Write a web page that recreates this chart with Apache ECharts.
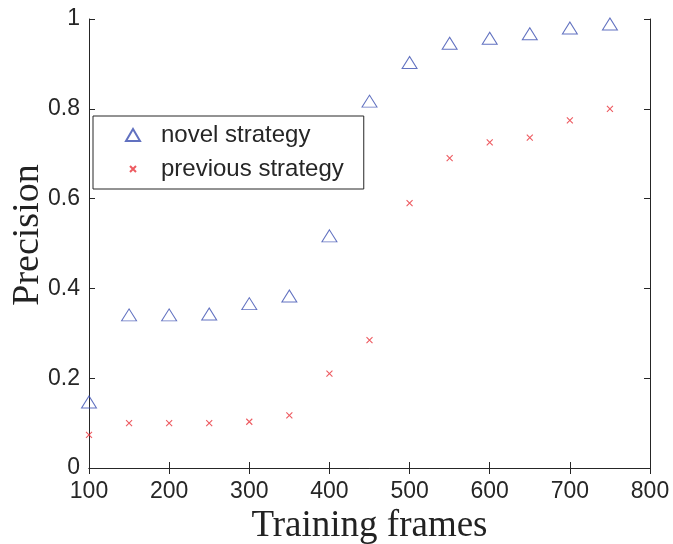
<!DOCTYPE html>
<html>
<head>
<meta charset="utf-8">
<script src="https://cdn.jsdelivr.net/npm/echarts@6/dist/echarts.min.js"></script>
<style>html,body{margin:0;padding:0;background:#fff}#c{width:673px;height:544px}</style>
</head>
<body>
<div id="c"></div>
<script>
const frames = [100,150,200,250,300,350,400,450,500,550,600,650,700,750];
const novel = [0.147,0.341,0.341,0.343,0.366,0.383,0.517,0.817,0.903,0.946,0.957,0.967,0.980,0.989];
const previous = [0.074,0.100,0.100,0.100,0.103,0.117,0.210,0.285,0.590,0.690,0.725,0.736,0.774,0.800];
const seriesNames = ['novel strategy','previous strategy'];
const xTitle = 'Training frames';
const yTitle = 'Precision';

const axisColor = '#262626';
const tickFont = {fontFamily:'Liberation Sans', fontSize:23, color:axisColor};
const chart = echarts.init(document.getElementById('c'), null, {renderer:'canvas'});
const lineStyle = {color:axisColor, width:1};
chart.setOption({
  animation:false,
  backgroundColor:'#fff',
  grid:{left:89, right:23, top:19, bottom:76, containLabel:false, outerBoundsMode:'none'},
  xAxis:[{
    type:'value', min:100, max:800, interval:100,
    name:xTitle, nameLocation:'middle', nameGap:40, nameMoveOverlap:false,
    nameTextStyle:{fontFamily:'Liberation Serif', fontSize:37, color:'#222', verticalAlign:'top'},
    axisLine:{show:true, lineStyle},
    axisTick:{show:true, inside:true, length:6, lineStyle},
    axisLabel:Object.assign({margin:12}, tickFont),
    splitLine:{show:false}
  },{
    type:'value', position:'top', min:100, max:800, interval:100,
    axisLine:{show:true, lineStyle},
    axisTick:{show:true, inside:true, length:6, lineStyle},
    axisLabel:{show:false}, splitLine:{show:false}
  }],
  yAxis:[{
    type:'value', min:0, max:1, interval:0.2,
    name:yTitle, nameLocation:'middle', nameGap:42, nameRotate:90, nameMoveOverlap:false,
    nameTextStyle:{fontFamily:'Liberation Serif', fontSize:38, color:'#222', padding:[0,0,0,17]},
    axisLine:{show:true, lineStyle},
    axisTick:{show:true, inside:true, length:6, lineStyle},
    axisLabel:Object.assign({margin:9, formatter:v => String(+v.toFixed(1))}, tickFont),
    splitLine:{show:false}
  },{
    type:'value', position:'right', min:0, max:1, interval:0.2,
    axisLine:{show:true, lineStyle},
    axisTick:{show:true, inside:true, length:6, lineStyle},
    axisLabel:{show:false}, splitLine:{show:false}
  }],
  legend:{
    orient:'vertical', left:93, top:116,
    padding:[7,20,8,32], itemGap:10, itemWidth:14, itemHeight:12,
    backgroundColor:'#fff', borderColor:axisColor, borderWidth:1,
    textStyle:{fontFamily:'Liberation Sans', fontSize:24, color:axisColor, padding:[0,0,0,16]},
    data:[
      {name:seriesNames[0]},
      {name:seriesNames[1], icon:'path://M-5,-5M15,15M0,0L10,10M10,0L0,10'}
    ]
  },
  series:[{
    name:seriesNames[0], type:'scatter',
    data:frames.map((f,i)=>[f,novel[i]]),
    symbol:'triangle', symbolSize:[15,12],
    itemStyle:{color:'rgba(0,0,0,0)', borderColor:'#3a4db0', borderWidth:1}
  },{
    name:seriesNames[1], type:'scatter',
    data:frames.map((f,i)=>[f,previous[i]]),
    symbol:'path://M0,0L10,10M10,0L0,10', symbolSize:6,
    itemStyle:{color:'rgba(0,0,0,0)', borderColor:'#e8323a', borderWidth:1.1}
  }]
});
</script>
</body>
</html>
